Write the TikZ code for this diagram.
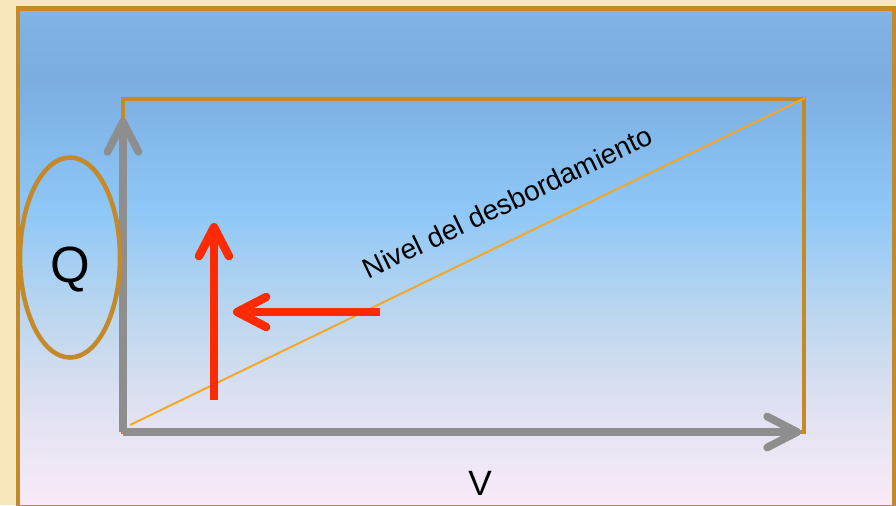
\documentclass[tikz,border=0pt]{standalone}
\usepackage{fontspec}
\setmainfont{Liberation Sans}
\usetikzlibrary{arrows.meta, positioning, shapes.geometric}
\definecolor{goldline}{HTML}{C48A2A}
\definecolor{paper}{HTML}{F8E6BC}
\definecolor{skyrim}{HTML}{82B3E6}
\definecolor{skytop}{HTML}{7BADE1}
\definecolor{skymid}{HTML}{8EC7F7}
\definecolor{skysoft}{HTML}{BCD7EF}
\definecolor{skylow}{HTML}{DCE0F1}
\definecolor{blush}{HTML}{FAEBF8}
\definecolor{axisgray}{HTML}{8E8E8E}
\definecolor{alarm}{HTML}{FF2A00}
\definecolor{spill}{HTML}{F5A623}
\pgfdeclareverticalshading{skyfade}{100bp}{color(0bp)=(blush); color(25bp)=(blush); color(36bp)=(skylow); color(44bp)=(skysoft); color(55bp)=(skymid); color(68bp)=(skytop); color(75bp)=(skyrim); color(100bp)=(skyrim)}

\begin{document}
\begin{tikzpicture}[x=0.02cm, y=-0.02cm,
    every node/.style={inner sep=0pt},
    goldbox/.style={draw=goldline, line width=2.8pt},
    axisline/.style={draw=axisgray, line width=4.4pt, -{Straight Barb[round, length=6mm, width=6.2mm]}},
    signal/.style={draw=alarm, line width=4.8pt, -{Straight Barb[round, length=5.8mm, width=6mm]}},
    levelline/.style={draw=spill, line width=1.1pt},
    tag/.style={font=\fontsize{20}{22}\selectfont}
]
\useasboundingbox (0,0) rectangle (896,505);
\clip (0,0) rectangle (896,505);

% Page and frame
\fill[paper] (0,0) rectangle (896,505);
\shade[shading=skyfade] (20,10) rectangle (894,505);
\draw[draw=goldline, line width=2.8pt] (18,8.5) rectangle (894,507.5);

% Chart corners
\coordinate (origin) at (123,432);
\coordinate (corner) at (804,99);
\coordinate (ytip)   at (123,118);
\coordinate (xtip)   at (801,432);
\coordinate (lowend)  at (130,425);
\coordinate (highend) at (805,98);

\draw[goldbox] (origin) rectangle (corner);
\draw[levelline] (lowend) -- (highend);

% Axes
\draw[axisline] (origin) -- (ytip);
\draw[axisline] (origin) -- (xtip);

% Labels
\node[ellipse, draw=goldline, line width=2.6pt, minimum width=2cm, minimum height=4cm,
      font=\fontsize{29}{31}\selectfont, text height=29pt, text depth=1pt] (flow) at (70,257.5) {Q};
\node[tag] (speed) at (480,483) {V};
\node[anchor=base, rotate=25.5, font=\fontsize{16}{18}\selectfont] (levellabel) at (512,211)
     {Nivel del desbordamiento};

% Red arrows
\coordinate (riseS) at (214,400);
\coordinate (riseE) at (214,223);
\coordinate (backS) at (380,312);
\coordinate (backE) at (233,312);
\draw[signal] (riseS) -- (riseE);
\draw[signal] (backS) -- (backE);
\end{tikzpicture}
\end{document}
